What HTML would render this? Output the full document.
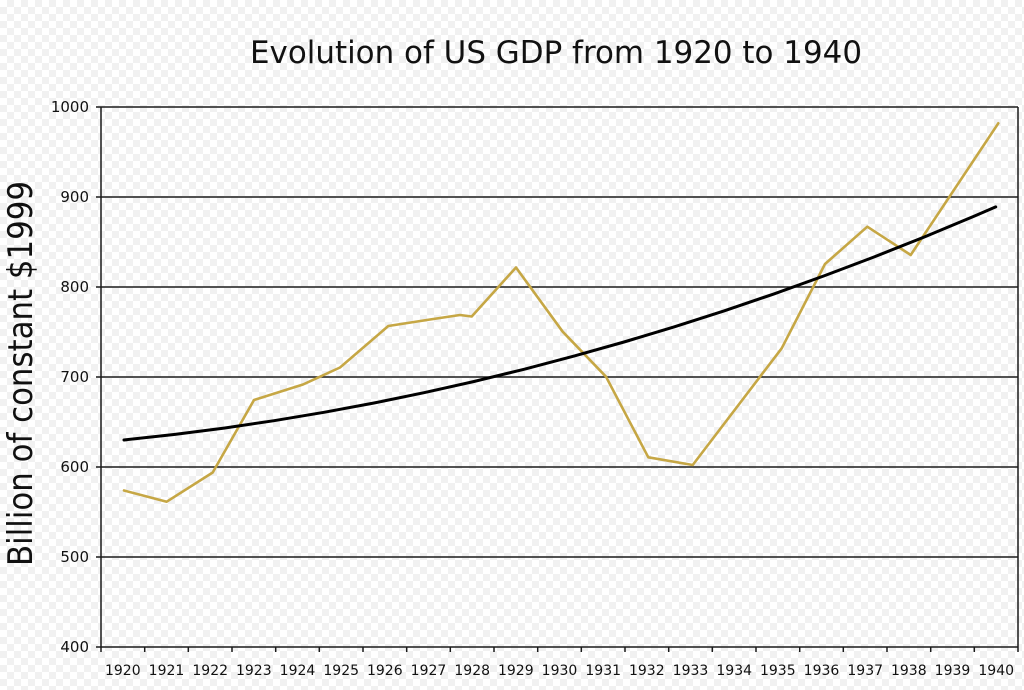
<!DOCTYPE html>
<html>
<head>
<meta charset="utf-8">
<style>
  html, body { margin: 0; padding: 0; }
  body {
    width: 1024px; height: 690px; overflow: hidden;
    background: repeating-conic-gradient(#f1f1f1 0 25%, #ffffff 0 50%) 0 0 / 14px 14px;
  }
  svg { display: block; }
  text { font-family: "DejaVu Sans", "Liberation Sans", sans-serif; fill: #111; }
</style>
</head>
<body>
<svg width="1024" height="690" viewBox="0 0 1024 690" xmlns="http://www.w3.org/2000/svg">
  <!-- Title -->
  <text x="250" y="63" font-size="31" textLength="612" lengthAdjust="spacingAndGlyphs">Evolution of US GDP from 1920 to 1940</text>

  <!-- Y axis label -->
  <text transform="translate(32,566) rotate(-90)" x="0" y="0" font-size="34" textLength="385" lengthAdjust="spacingAndGlyphs">Billion of constant $1999</text>

  <!-- Gridlines -->
  <g stroke="#1a1a1a" stroke-width="1.5">
    <line x1="96" y1="107" x2="1018" y2="107"/>
    <line x1="96" y1="197" x2="1018" y2="197"/>
    <line x1="96" y1="287" x2="1018" y2="287"/>
    <line x1="96" y1="377" x2="1018" y2="377"/>
    <line x1="96" y1="467" x2="1018" y2="467"/>
    <line x1="96" y1="557" x2="1018" y2="557"/>
    <line x1="96" y1="647" x2="1018" y2="647"/>
    <line x1="101" y1="107" x2="101" y2="647"/>
    <line x1="1018" y1="107" x2="1018" y2="647"/>
  </g>

  <!-- Bottom ticks -->
  <g stroke="#1a1a1a" stroke-width="1.5">
    <line x1="101" y1="647" x2="101" y2="652"/>
    <line x1="144.7" y1="647" x2="144.7" y2="652"/>
    <line x1="188.3" y1="647" x2="188.3" y2="652"/>
    <line x1="232" y1="647" x2="232" y2="652"/>
    <line x1="275.7" y1="647" x2="275.7" y2="652"/>
    <line x1="319.3" y1="647" x2="319.3" y2="652"/>
    <line x1="363" y1="647" x2="363" y2="652"/>
    <line x1="406.7" y1="647" x2="406.7" y2="652"/>
    <line x1="450.3" y1="647" x2="450.3" y2="652"/>
    <line x1="494" y1="647" x2="494" y2="652"/>
    <line x1="537.7" y1="647" x2="537.7" y2="652"/>
    <line x1="581.3" y1="647" x2="581.3" y2="652"/>
    <line x1="625" y1="647" x2="625" y2="652"/>
    <line x1="668.7" y1="647" x2="668.7" y2="652"/>
    <line x1="712.3" y1="647" x2="712.3" y2="652"/>
    <line x1="756" y1="647" x2="756" y2="652"/>
    <line x1="799.7" y1="647" x2="799.7" y2="652"/>
    <line x1="843.3" y1="647" x2="843.3" y2="652"/>
    <line x1="887" y1="647" x2="887" y2="652"/>
    <line x1="930.7" y1="647" x2="930.7" y2="652"/>
    <line x1="974.3" y1="647" x2="974.3" y2="652"/>
    <line x1="1018" y1="647" x2="1018" y2="652"/>
  </g>

  <!-- Y tick labels -->
  <g font-size="15" text-anchor="end">
    <text x="89" y="112">1000</text>
    <text x="89" y="202">900</text>
    <text x="89" y="292">800</text>
    <text x="89" y="382">700</text>
    <text x="89" y="472">600</text>
    <text x="89" y="562">500</text>
    <text x="89" y="652">400</text>
  </g>

  <!-- X tick labels -->
  <g font-size="14" text-anchor="middle">
    <text x="122.8" y="675">1920</text>
    <text x="166.5" y="675">1921</text>
    <text x="210.2" y="675">1922</text>
    <text x="253.8" y="675">1923</text>
    <text x="297.5" y="675">1924</text>
    <text x="341.2" y="675">1925</text>
    <text x="384.8" y="675">1926</text>
    <text x="428.5" y="675">1927</text>
    <text x="472.2" y="675">1928</text>
    <text x="515.8" y="675">1929</text>
    <text x="559.5" y="675">1930</text>
    <text x="603.2" y="675">1931</text>
    <text x="646.8" y="675">1932</text>
    <text x="690.5" y="675">1933</text>
    <text x="734.2" y="675">1934</text>
    <text x="777.8" y="675">1935</text>
    <text x="821.5" y="675">1936</text>
    <text x="865.2" y="675">1937</text>
    <text x="908.8" y="675">1938</text>
    <text x="952.5" y="675">1939</text>
    <text x="996.2" y="675">1940</text>
  </g>

  <!-- GDP series (gold) -->
  <polyline fill="none" stroke="#c6a745" stroke-width="2.6" stroke-linejoin="round" stroke-linecap="round"
    points="124,490.5 166.7,501.7 212.7,472.5 254,400 303,384.5 340,367.5 388.3,326 430,319.5 460,315 471.7,316.5 516,267.5 562.7,331.7 606,376.7 648.3,457.3 692.7,465 781.7,348.3 825,264 867.3,226.7 910.7,255 998.3,123.3"/>

  <!-- Trend (black) -->
  <polyline fill="none" stroke="#000" stroke-width="3" stroke-linejoin="round" stroke-linecap="round"
    points="124,440 174,434.5 224,428.1 274,420.7 324,412.3 374,403 424,392.7 474,381.5 524,369.3 574,356.1 624,342 674,326.9 724,310.9 774,293.9 824,275.9 874,257 924,237.1 974,216.3 995.7,206.9"/>
</svg>
</body>
</html>
